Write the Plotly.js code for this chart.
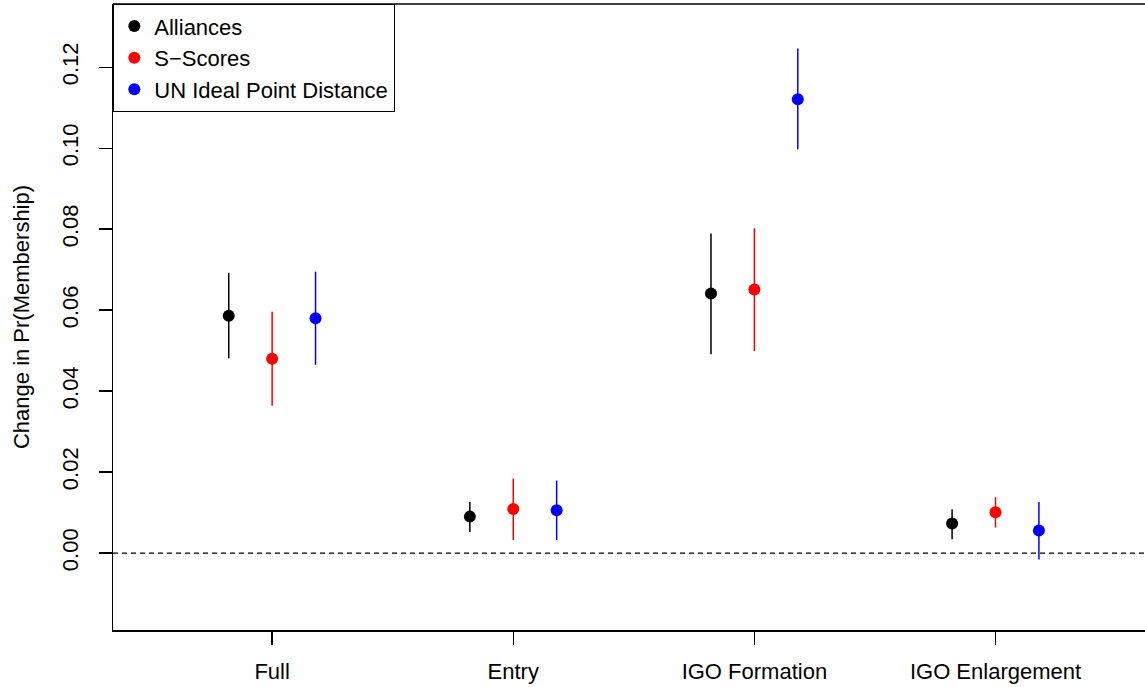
<!DOCTYPE html>
<html>
<head>
<meta charset="utf-8">
<script src="https://cdn.plot.ly/plotly-3.0.1.min.js"></script>
<style>html,body{margin:0;padding:0;background:#fff;}#chart{width:1145px;height:687px;}</style>
</head>
<body>
<div id="chart"></div>
<script>
const categories = ["Full", "Entry", "IGO Formation", "IGO Enlargement"];
const seriesNames = ["Alliances", "S\u2212Scores", "UN Ideal Point Distance"];
const allianceEst = [0.0586, 0.0090, 0.0641, 0.0073];
const allianceLo  = [0.0481, 0.0052, 0.0491, 0.0034];
const allianceHi  = [0.0692, 0.0126, 0.0789, 0.0108];
const sscoreEst   = [0.0480, 0.0109, 0.0651, 0.0101];
const sscoreLo    = [0.0364, 0.0032, 0.0499, 0.0063];
const sscoreHi    = [0.0596, 0.0184, 0.0802, 0.0138];
const unEst       = [0.0580, 0.0106, 0.1121, 0.0056];
const unLo        = [0.0465, 0.0032, 0.0997, -0.0016];
const unHi        = [0.0695, 0.0179, 0.1246, 0.0126];
const yTicks      = [0, 0.02, 0.04, 0.06, 0.08, 0.10, 0.12];
const yTickText   = ["0.00", "0.02", "0.04", "0.06", "0.08", "0.10", "0.12"];

const colors = ["#000000", "#ff0000", "#0000ff"];
const offsets = [-0.18, 0, 0.18];
const series = [
  {est: allianceEst, lo: allianceLo, hi: allianceHi},
  {est: sscoreEst, lo: sscoreLo, hi: sscoreHi},
  {est: unEst, lo: unLo, hi: unHi}
];

const traces = series.map((s, k) => ({
  type: "scatter",
  mode: "markers",
  name: seriesNames[k],
  x: categories.map((c, i) => i + 1 + offsets[k]),
  y: s.est,
  marker: {color: colors[k], size: 12},
  error_y: {
    type: "data",
    symmetric: false,
    array: s.est.map((v, i) => s.hi[i] - v),
    arrayminus: s.est.map((v, i) => v - s.lo[i]),
    color: colors[k],
    thickness: 1.5,
    width: 0
  }
}));

const fam = "Liberation Sans, Arial, sans-serif";
const fs = 22;

const layout = {
  width: 1145, height: 687,
  margin: {l: 113, r: 0, t: 4, b: 57},
  paper_bgcolor: "#fff", plot_bgcolor: "#fff",
  font: {family: fam, size: fs, color: "#000"},
  showlegend: true,
  legend: {
    x: 0, y: 1, xanchor: "left", yanchor: "top",
    bordercolor: "#000", borderwidth: 1.3, bgcolor: "#fff",
    font: {family: fam, size: fs, color: "#000"},
    itemwidth: 30, tracegroupgap: 0
  },
  xaxis: {
    range: [0.34, 4.62],
    tickvals: categories.map((c, i) => i + 1),
    ticktext: categories,
    ticks: "outside", ticklen: 13, tickwidth: 1.3, tickcolor: "#000",
    ticklabelstandoff: 8,
    showgrid: false, zeroline: false,
    showline: true, linecolor: "#000", linewidth: 1.5,
    tickfont: {family: fam, size: fs, color: "#000"}
  },
  yaxis: {
    range: [-0.019, 0.1356],
    tickvals: yTicks,
    ticktext: yTickText,
    tickangle: -90,
    ticks: "outside", ticklen: 13, tickwidth: 1.3, tickcolor: "#000",
    ticklabelstandoff: 12,
    showgrid: false, zeroline: false,
    showline: true, linecolor: "#000", linewidth: 1.5,
    tickfont: {family: fam, size: fs, color: "#000"},
    title: {text: "Change in Pr(Membership)", font: {family: fam, size: fs, color: "#000"}, standoff: 22}
  },
  shapes: [
    {type: "line", xref: "paper", yref: "y", x0: 0, x1: 1, y0: 0, y1: 0,
     line: {color: "#000", width: 1.2, dash: "5px,4px"}},
    {type: "line", xref: "paper", yref: "paper", x0: 0, x1: 1, y0: 1, y1: 1,
     line: {color: "#000", width: 1.5}}
  ]
};

Plotly.newPlot("chart", traces, layout, {displayModeBar: false, staticPlot: true});
</script>
</body>
</html>
